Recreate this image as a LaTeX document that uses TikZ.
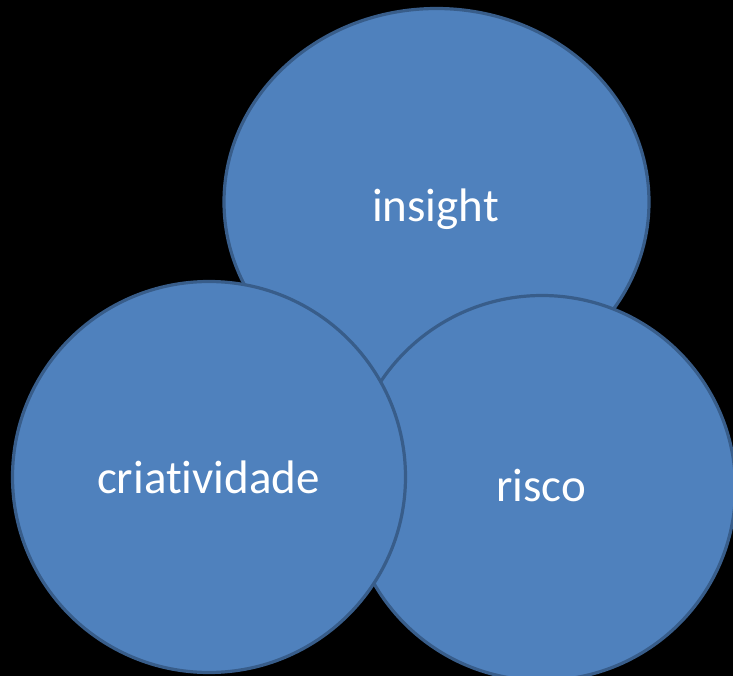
\documentclass[tikz,border=0pt]{standalone}
\usepackage{fontspec}
\setmainfont{Carlito}[Ligatures={NoCommon}]
\usetikzlibrary{shapes.geometric}
\definecolor{bubblefill}{HTML}{4F81BD}
\definecolor{bubbleline}{HTML}{385D8A}
\tikzset{
  bubble/.style={ellipse, draw=bubbleline, fill=bubblefill, line width=3.2pt, inner sep=0pt, outer sep=0pt},
  lbl/.style={text=white, font=\fontsize{47}{51}\selectfont, inner sep=0pt}
}
\begin{document}
\begin{tikzpicture}[x=1pt,y=-1pt]
\fill[black] (0,0) rectangle (733,676);
\useasboundingbox (0,0) rectangle (733,676);
\begin{scope}
\clip (0,0) rectangle (733,676);
\node[bubble, minimum width=425pt, minimum height=387pt] (ins) at (436.5,202) {};
\node[bubble, minimum width=387pt, minimum height=385pt] (ris) at (542,488) {};
\node[bubble, minimum width=393pt, minimum height=391pt] (cri) at (209,477) {};
\end{scope}
\node[lbl] (tins) at (435.5,209.5) {insight};
\node[lbl] (tcri) at (208.5,477.5) {criatividade};
\node[lbl] (tris) at (541,485.5) {risco};
\end{tikzpicture}
\end{document}
